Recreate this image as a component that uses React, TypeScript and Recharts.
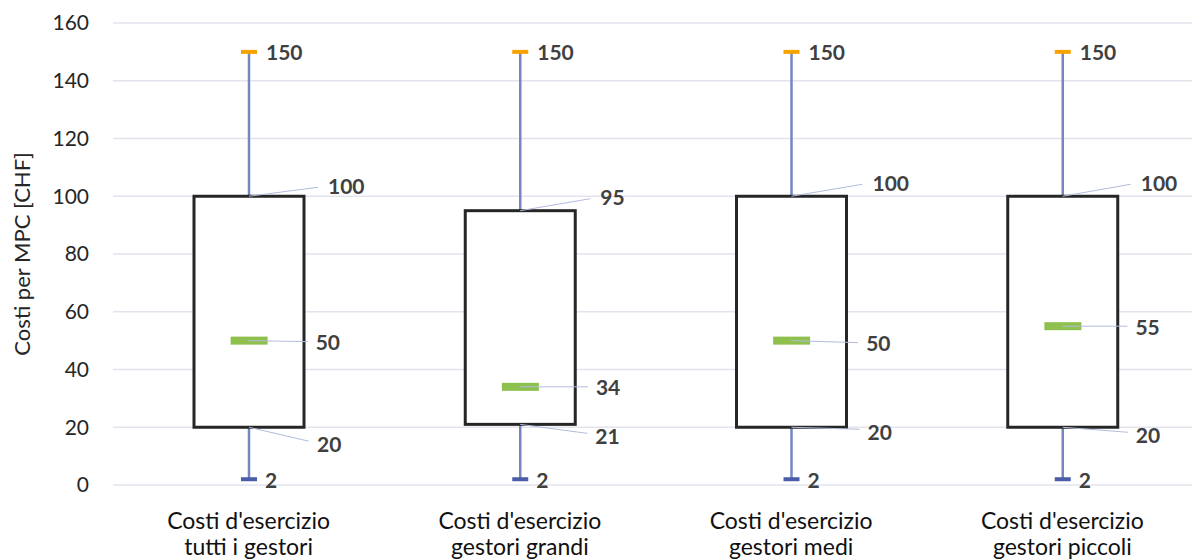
import React from "react";
import {
  ComposedChart,
  Bar,
  Scatter,
  XAxis,
  YAxis,
  CartesianGrid,
} from "recharts";

const line1 = ["Costi d'esercizio", "Costi d'esercizio", "Costi d'esercizio", "Costi d'esercizio"];
const line2 = ["tutti i gestori", "gestori grandi", "gestori medi", "gestori piccoli"];
const minVals = [2, 2, 2, 2];
const q1Vals = [20, 21, 20, 20];
const medianVals = [50, 34, 50, 55];
const q3Vals = [100, 95, 100, 100];
const maxVals = [150, 150, 150, 150];
const yTicks = [0, 20, 40, 60, 80, 100, 120, 140, 160];

// label placement per box (excel moved some labels by hand)
const q3Off = [[79, -11], [80, -14], [81, -14], [78, -14]];
const medOff = [[67, 1], [76, 0], [75, 2], [73, 0]];
const q1Off = [[68, 16], [75, 11], [76, 4], [73, 7]];

const data = line2.map((l, i) => ({
  cat: l,
  idx: i,
  whisker: [minVals[i], maxVals[i]],
  box: [q1Vals[i], q3Vals[i]],
  median: medianVals[i],
  min: minVals[i],
  q1: q1Vals[i],
  q3: q3Vals[i],
  max: maxVals[i],
}));

const FONT = "Lato, 'Open Sans', sans-serif";
const labelStyle = { fontSize: 21, fontWeight: 700, fill: "#404040", fontFamily: FONT };
const leader = "#b4bcdc";

const WhiskerShape = (props: any) => {
  const { x, y, width, height, payload } = props;
  const cx = x + width / 2;
  const top = Math.min(y, y + height);
  const bottom = Math.max(y, y + height);
  return (
    <g>
      <line x1={cx} y1={top} x2={cx} y2={bottom} stroke="#7486c4" strokeWidth={2.5} />
      <rect x={cx - 8} y={top - 2} width={16} height={4} fill="#f5a300" />
      <rect x={cx - 8} y={bottom - 2} width={16} height={4} fill="#4a5da8" />
      <text x={cx + 17} y={top} dominantBaseline="central" style={labelStyle}>
        {payload.max}
      </text>
      <text x={cx + 16} y={bottom} dominantBaseline="central" style={labelStyle}>
        {payload.min}
      </text>
    </g>
  );
};

const BoxShape = (props: any) => {
  const { x, y, width, height, payload } = props;
  const cx = x + width / 2;
  const top = Math.min(y, y + height);
  const bottom = Math.max(y, y + height);
  const [tdx, tdy] = q3Off[payload.idx];
  const [bdx, bdy] = q1Off[payload.idx];
  return (
    <g>
      <rect x={x} y={top} width={width} height={bottom - top} fill="#ffffff" stroke="#262626" strokeWidth={3} />
      <polyline points={`${cx},${top} ${cx + tdx - 10},${top + tdy + 2}`} fill="none" stroke={leader} strokeWidth={1} />
      <text x={cx + tdx} y={top + tdy} dominantBaseline="central" style={labelStyle}>
        {payload.q3}
      </text>
      <polyline points={`${cx},${bottom} ${cx + bdx - 8},${bottom + bdy - 2}`} fill="none" stroke={leader} strokeWidth={1} />
      <text x={cx + bdx} y={bottom + bdy} dominantBaseline="central" style={labelStyle}>
        {payload.q1}
      </text>
    </g>
  );
};

const MedianShape = (props: any) => {
  const { cx, cy, payload } = props;
  const [dx, dy] = medOff[payload.idx];
  return (
    <g>
      <rect x={cx - 18} y={cy - 4} width={37} height={8} fill="#8dc04c" />
      <line x1={cx} y1={cy} x2={cx + dx - 8} y2={cy + dy} stroke={leader} strokeWidth={1} />
      <text x={cx + dx} y={cy + dy} dominantBaseline="central" style={labelStyle}>
        {payload.median}
      </text>
    </g>
  );
};

const CatTick = (props: any) => {
  const { x, y, payload, index } = props;
  return (
    <text x={x} y={y} textAnchor="middle" style={{ fontSize: 23, fill: "#111111", fontFamily: FONT }}>
      <tspan x={x} dy={44}>{line1[index]}</tspan>
      <tspan x={x} dy={26}>{payload.value}</tspan>
    </text>
  );
};

export default function App() {
  return (
    <div style={{ position: "absolute", left: 0, top: 0, width: 1192, height: 560, overflow: "hidden", background: "#fff", fontFamily: FONT }}>
      <ComposedChart width={1198} height={560} data={data} margin={{ top: 23, right: 0, bottom: 5, left: 0 }}>
        <CartesianGrid vertical={false} stroke="#e3e3ee" strokeWidth={1.5} />
        <XAxis xAxisId="main" dataKey="cat" height={70} axisLine={false} tickLine={false} tickSize={0} tickMargin={0} tick={<CatTick />} interval={0} />
        <XAxis xAxisId="w" dataKey="cat" hide />
        <YAxis
          domain={[0, 160]}
          ticks={yTicks}
          width={113}
          axisLine={false}
          tickLine={false}
          tickSize={0}
          tickMargin={24}
          tick={{ fontSize: 21, fill: "#262626", fontFamily: FONT }}
          label={{ value: "Costi per MPC [CHF]", angle: -90, position: "center", dx: -34, style: { fontSize: 22, fill: "#262626", fontFamily: FONT } }}
        />
        <Bar xAxisId="w" dataKey="whisker" barSize={110} shape={<WhiskerShape />} isAnimationActive={false} />
        <Bar xAxisId="main" dataKey="box" barSize={110} shape={<BoxShape />} isAnimationActive={false} />
        <Scatter xAxisId="main" dataKey="median" shape={<MedianShape />} isAnimationActive={false} />
      </ComposedChart>
    </div>
  );
}
